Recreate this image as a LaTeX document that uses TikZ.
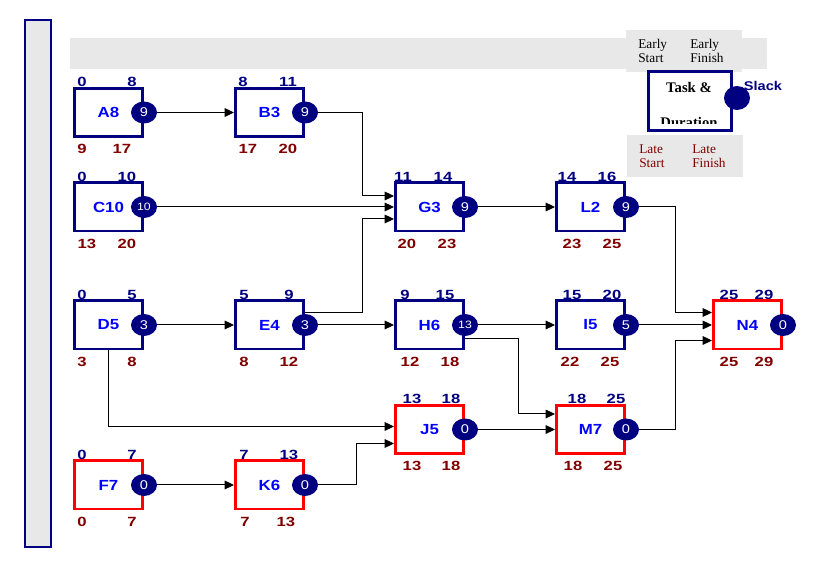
\documentclass[tikz,border=0pt]{standalone}
\usepackage{fontspec}
\setmainfont[FakeStretch=1.15]{Liberation Sans}
\newfontfamily\numfont[FakeStretch=1.25]{Liberation Sans}
\newfontfamily\legfont{Liberation Serif}
\usetikzlibrary{arrows.meta,calc,shapes.geometric}
\definecolor{navy}{HTML}{000080}
\definecolor{dred}{HTML}{800000}
\definecolor{critred}{HTML}{FF0000}
\definecolor{lblue}{HTML}{0000FF}
\definecolor{bandgray}{HTML}{E8E8E8}
\newcommand{\tasknode}[5]{\node[#5] (#1) at (#2,#3) {\raisebox{-2.5pt}{#4}};}
\newcommand{\slacknode}[2]{\node[slk] (#1-s) at (#1.east) {#2};}
\newcommand{\numset}[9]{%
 \node[esn] (#1-es) at ($(#1.west)+(#6,-30.5)$) {#2};
 \node[esn] (#1-ef) at ($(#1.west)+(#7,-30.5)$) {#3};
 \node[lsn] (#1-ls) at ($(#1.west)+(#8,36.5)$) {#4};
 \node[lsn] (#1-lf) at ($(#1.west)+(#9,36.5)$) {#5};}
\begin{document}
\begin{tikzpicture}[x=0.75pt,y=-0.75pt,
 taskbox/.style={draw=navy,line width=2pt,fill=white,minimum width=51.25pt,minimum height=36.25pt,inner sep=0pt,font=\fontsize{11}{13}\bfseries\selectfont,text=lblue},
 critbox/.style={taskbox,draw=critred},
 slk/.style={ellipse,fill=navy,minimum width=19.5pt,minimum height=16.5pt,inner sep=0pt,text=white,font=\fontsize{9.5}{10}\selectfont},
 esn/.style={inner sep=0pt,text=navy,font=\numfont\fontsize{10}{12}\bfseries\selectfont},
 lsn/.style={inner sep=0pt,text=dred,font=\numfont\fontsize{10}{12}\bfseries\selectfont},
 arr/.style={draw=black,line width=0.75pt,-{Triangle[length=7pt,width=6.5pt]}},
 legtxt/.style={inner sep=0pt,align=left,anchor=west,font=\legfont\fontsize{10}{10.5}\selectfont}]
\useasboundingbox (0,0) rectangle (822,580);
% left bar and band
\draw[navy,line width=1.5pt,fill=bandgray] (25,20.5) rectangle (51,547.5);
\fill[bandgray] (70,38) rectangle (767,69);
% legend
\fill[bandgray] (626,30) rectangle (742,72);
\node[legtxt] (lg-es) at (638,51) {Early\\Start};
\node[legtxt] (lg-ef) at (690,51) {Early\\Finish};
\fill[bandgray] (627,135) rectangle (743,177);
\node[legtxt,text=dred] (lg-ls) at (639,156) {Late\\Start};
\node[legtxt,text=dred] (lg-lf) at (692,156) {Late\\Finish};
\begin{scope}
\clip (648.5,71.5) rectangle (731.5,123.5);
\node[inner sep=0pt,font=\legfont\fontsize{11}{12}\bfseries\selectfont] (lg-dur) at (689,122.5) {Duration};
\end{scope}
\node[draw=navy,line width=2.2pt,minimum width=62.5pt,minimum height=44.5pt,inner sep=0pt] (lg-box) at (690,101) {};
\node[inner sep=0pt,font=\legfont\fontsize{11}{12}\bfseries\selectfont] (lg-task) at (689,87) {Task \&};
\node[ellipse,fill=navy,minimum width=19.5pt,minimum height=18pt,inner sep=0pt] (lg-slk) at (737,98) {};
\node[inner sep=0pt,text=navy,font=\fontsize{9.5}{12}\bfseries\selectfont] (lg-slack) at (763,86) {Slack};
% tasks
\tasknode{A}{108.5}{112.5}{A8}{taskbox}
\tasknode{B}{269.5}{112.5}{B3}{taskbox}
\tasknode{C}{108.5}{207}{C10}{taskbox}
\tasknode{G}{429.5}{207}{G3}{taskbox}
\tasknode{L}{590.5}{207}{L2}{taskbox}
\tasknode{D}{108.5}{325}{D5}{taskbox}
\tasknode{E}{269.5}{325}{E4}{taskbox}
\tasknode{H}{429.5}{325}{H6}{taskbox}
\tasknode{I}{590.5}{325}{I5}{taskbox}
\tasknode{N}{747.5}{325}{N4}{critbox}
\tasknode{J}{429.5}{429.5}{J5}{critbox}
\tasknode{M}{590.5}{429.5}{M7}{critbox}
\tasknode{F}{108.5}{485}{F7}{critbox}
\tasknode{K}{269.5}{485}{K6}{critbox}
% connectors
\draw[arr] ($(A.east)+(12,0)$) -- (B.west);
\draw[arr] ($(B.east)+(12,0)$) -| ($(G.west)+(-32,-11)$) -- ($(G.west)+(0,-11)$);
\draw[arr] ($(C.east)+(12,0)$) -- (G.west);
\draw[arr] ($(E.east)+(0,-12)$) -| ($(G.west)+(-32,12)$) -- ($(G.west)+(0,12)$);
\draw[arr] ($(D.east)+(12,0)$) -- (E.west);
\draw[arr] ($(E.east)+(12,0)$) -- (H.west);
\draw[arr] (D.south) |- ($(J.west)+(0,-3)$);
\draw[arr] ($(F.east)+(12,0)$) -- (K.west);
\draw[arr] ($(K.east)+(12,0)$) -| ($(J.west)+(-38,14)$) -- ($(J.west)+(0,14)$);
\draw[arr] ($(G.east)+(12,0)$) -- (L.west);
\draw[arr] ($(H.east)+(12,0)$) -- (I.west);
\draw[arr] ($(H.east)+(0,14)$) -| ($(M.west)+(-37,-15.5)$) -- ($(M.west)+(0,-15.5)$);
\draw[arr] ($(J.east)+(12,0)$) -- (M.west);
\draw[arr] ($(L.east)+(12,0)$) -| ($(N.west)+(-37,-12.5)$) -- ($(N.west)+(0,-12.5)$);
\draw[arr] ($(I.east)+(12,0)$) -- (N.west);
\draw[arr] ($(M.east)+(12,0)$) -| ($(N.west)+(-37,15.5)$) -- ($(N.west)+(0,15.5)$);
% slack circles
\slacknode{A}{9}
\slacknode{B}{9}
\slacknode{C}{\fontsize{8}{9}\selectfont 10}
\slacknode{G}{9}
\slacknode{L}{9}
\slacknode{D}{3}
\slacknode{E}{3}
\slacknode{H}{\fontsize{8}{9}\selectfont 13}
\slacknode{I}{5}
\slacknode{N}{0}
\slacknode{J}{0}
\slacknode{M}{0}
\slacknode{F}{0}
\slacknode{K}{0}
% numbers
\numset{A}{0}{8}{9}{17}{9}{59}{9}{49}
\numset{B}{8}{11}{17}{20}{9}{54}{14}{54}
\numset{C}{0}{10}{13}{20}{9}{54}{14}{54}
\numset{D}{0}{5}{3}{8}{9}{59}{9}{59}
\numset{E}{5}{9}{8}{12}{10}{55}{10}{55}
\numset{F}{0}{7}{0}{7}{9}{59}{9}{59}
\numset{G}{11}{14}{20}{23}{9}{49}{13}{53}
\numset{H}{9}{15}{12}{18}{11}{51}{16}{56}
\numset{I}{15}{20}{22}{25}{17}{57}{15}{55}
\numset{J}{13}{18}{13}{18}{18}{57}{18}{57}
\numset{K}{7}{13}{7}{13}{10}{55}{11}{52}
\numset{L}{14}{16}{23}{25}{12}{52}{17}{57}
\numset{M}{18}{25}{18}{25}{22}{61}{18}{58}
\numset{N}{25}{29}{25}{29}{17}{52}{17}{52}
\end{tikzpicture}
\end{document}
